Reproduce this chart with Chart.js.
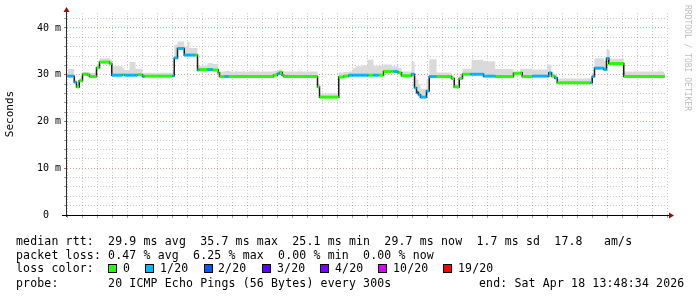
<!DOCTYPE html>
<html><head><meta charset="utf-8">
<script src="https://cdn.jsdelivr.net/npm/chart.js@4.4.1/dist/chart.umd.min.js"></script>
<style>
html,body{margin:0;padding:0;background:#fff;}
#wrap{position:relative;width:697px;height:297px;overflow:hidden;background:#fff;}
#c{position:absolute;left:0;top:0;}
.lg{position:absolute;font-family:"DejaVu Sans Mono",monospace;font-size:11.5px;letter-spacing:0.16px;white-space:pre;color:#000;line-height:14px;}
.box{position:absolute;width:9px;height:9px;border:1px solid #000;box-sizing:border-box;}
#wm{position:absolute;left:683px;top:5px;writing-mode:vertical-rl;font-family:"DejaVu Sans Mono",monospace;font-size:8px;color:#bdbdbd;white-space:pre;line-height:9px;}
</style></head>
<body><div id="wrap"><canvas id="c" width="697" height="297"></canvas>
<div id="wm">RRDTOOL / TOBI OETIKER</div>
<div class="lg" style="left:16px;top:234px">median rtt:  29.9 ms avg  35.7 ms max  25.1 ms min  29.7 ms now  1.7 ms sd  17.8   am/s</div>
<div class="lg" style="left:16px;top:248px">packet loss: 0.47 % avg  6.25 % max  0.00 % min  0.00 % now</div>
<div class="lg" style="left:16px;top:261px">loss color:</div>
<div id="lossrow"></div>
<div class="lg" style="left:16px;top:276px">probe:       20 ICMP Echo Pings (56 Bytes) every 300s</div>
<div class="lg" style="left:479px;top:276px">end: Sat Apr 18 13:48:34 2026</div>
</div>
<script>
// time: hours since 09 Apr 00:00 (start of each step)
const times = [-10.0,-7.3,-6.4,-5.3,-4.0,-2.0,-1.2,1.6,2.8,6.8,7.7,12.0,12.8,14.8,17.2,18.0,20.0,20.8,32.0,32.7,34.0,36.7,38.0,38.8,41.1,42.0,42.7,46.0,48.0,50.3,50.8,52.9,54.5,72.4,73.9,74.8,75.9,76.5,90.0,90.8,98.5,100.5,102.5,104.0,105.2,108.0,110.0,110.4,112.4,114.4,116.4,119.6,120.4,122.0,122.4,123.6,127.6,128.8,129.6,130.4,131.2,133.6,134.7,137.6,143.6,144.7,146.7,148.0,151.1,151.6,156.4,161.1,168.4,171.1,171.9,175.9,181.9,182.5,183.6,184.9,185.9,199.2,199.9,200.8,204.5,205.6,206.5,206.9,212.5,228.8];
// median rtt in ms
const medianMs = [29.7,28.4,27.4,28.7,30.1,30.0,29.6,31.5,32.7,32.4,29.9,30.0,29.9,29.9,29.9,30.0,29.6,29.7,29.8,33.6,35.6,34.2,34.2,34.2,34.2,31.0,31.1,31.1,31.0,30.4,29.6,29.6,29.6,29.9,30.2,30.5,29.9,29.6,27.4,25.2,29.5,29.7,29.9,29.9,29.9,29.9,29.9,29.9,29.9,29.9,30.7,30.7,30.7,30.6,30.4,29.8,30.1,27.2,26.2,25.7,25.2,26.5,29.6,29.6,29.2,27.4,29.2,30.1,30.1,30.1,29.7,29.6,30.3,30.4,29.6,29.7,29.7,30.4,29.7,29.3,28.3,28.3,29.6,31.4,31.1,33.5,32.4,32.4,29.6,29.6];
// loss class index (0 = 0, 1 = 1/20, 2 = 2/20)
const lossIdx = [1,1,0,0,0,0,0,0,0,0,1,0,1,1,1,0,1,0,1,1,1,1,1,1,0,1,0,1,0,0,0,1,0,0,1,0,0,0,0,0,0,0,1,1,1,1,1,0,1,0,0,0,1,0,0,0,1,1,2,1,1,1,1,0,0,0,0,0,1,1,1,0,0,0,0,1,1,1,0,1,0,1,1,1,1,1,0,0,0,0];
// upper edge of the smoke (ping spread) in ms
const smokeTopMs = [31.2,28.9,27.9,29.2,30.6,30.6,30.4,32.2,33.5,33.3,31.8,31.4,31.0,32.7,31.3,31.3,30.4,30.4,30.7,36.4,37.1,36.0,37.1,35.7,35.7,31.9,31.9,32.5,32.3,31.2,30.7,30.8,30.7,30.8,31.0,31.1,30.8,30.7,28.0,26.0,30.5,30.6,30.7,31.4,31.8,32.0,33.2,33.2,31.9,31.9,32.2,31.8,31.8,31.8,31.5,30.7,32.8,29.6,29.0,28.0,27.0,29.0,33.3,30.5,29.9,28.0,29.9,31.3,31.3,33.2,32.9,31.2,30.7,31.3,31.3,31.1,32.2,32.2,30.5,30.0,29.2,29.4,30.2,33.5,32.9,35.3,35.3,33.4,30.7,30.7];
const lossLabels = ['0','1/20','2/20','3/20','4/20','10/20','19/20'];
const lossColors = ['#26ff00','#00b8ff','#0059ff','#5e00ff','#7e00ff','#dd00ff','#ff0000'];
const dayLabels = ['09 Apr','10 Apr','11 Apr','12 Apr','13 Apr','14 Apr','15 Apr','16 Apr','17 Apr','18 Apr'];
const yLabels = {0:'0  ',10:'10 m',20:'20 m',30:'30 m',40:'40 m'};

// loss legend
const boxX = [108,145,204,262,320,378,443];
const txtX = [123,160,218,277,335,393,458];
const lr = document.getElementById('lossrow');
lossLabels.forEach((l,i)=>{
  const b=document.createElement('div'); b.className='box';
  b.style.left=boxX[i]+'px'; b.style.top='264px'; b.style.background=lossColors[i]; lr.appendChild(b);
  const t=document.createElement('div'); t.className='lg'; t.textContent=l;
  t.style.left=txtX[i]+'px'; t.style.top='261px'; lr.appendChild(t);
});

const medianPts = times.map((t,i)=>({x:t,y:medianMs[i]}));
const smokePts = times.map((t,i)=>({x:t,y:smokeTopMs[i]}));
const bandPts = [];
for (let i=0;i<times.length-1;i++){
  bandPts.push({x:times[i],y:medianMs[i],c:lossIdx[i]},{x:times[i+1],y:medianMs[i],c:lossIdx[i]},{x:times[i+1],y:null,c:lossIdx[i]});
}
const MAJ='rgba(222,60,60,0.5)', MIN='rgba(140,140,140,0.45)';
const mod=(v,m)=>((v%m)+m)%m;

const axesPlugin = {id:'axes', afterDraw(chart){
  const {ctx, chartArea:a} = chart;
  ctx.save();
  ctx.strokeStyle='#2c2c2c'; ctx.lineWidth=1;
  ctx.beginPath(); ctx.moveTo(a.left-0.5, a.bottom+2); ctx.lineTo(a.left-0.5, a.top-1); ctx.stroke();
  ctx.strokeStyle='#000';
  ctx.beginPath(); ctx.moveTo(a.left-5, a.bottom+0.5); ctx.lineTo(a.right+2, a.bottom+0.5); ctx.stroke();
  ctx.fillStyle='#8f1010';
  ctx.beginPath(); ctx.moveTo(a.left-0.5, a.top-6); ctx.lineTo(a.left-3.5, a.top-1); ctx.lineTo(a.left+2.5, a.top-1); ctx.closePath(); ctx.fill();
  ctx.beginPath(); ctx.moveTo(a.right+7, a.bottom+0.5); ctx.lineTo(a.right+2, a.bottom-2.5); ctx.lineTo(a.right+2, a.bottom+3.5); ctx.closePath(); ctx.fill();
  ctx.restore();
}};

new Chart(document.getElementById('c'), {
  type:'line',
  data:{datasets:[
    {data:bandPts, order:0, borderWidth:3, borderCapStyle:'butt', pointRadius:0, spanGaps:false,
     borderColor:lossColors[0], segment:{borderColor: c => lossColors[bandPts[c.p0DataIndex].c]}},
    {data:medianPts, order:1, stepped:true, borderWidth:1.5, borderColor:'#1c1c1c', pointRadius:0},
    {data:smokePts, order:2, stepped:true, borderWidth:0, borderColor:'rgba(0,0,0,0)', pointRadius:0,
     fill:{target:1}, backgroundColor:'#dadada'}
  ]},
  options:{
    responsive:false, animation:false, devicePixelRatio:1,
    layout:{padding:{left:0,top:13,right:30,bottom:0}},
    plugins:{legend:{display:false}, tooltip:{enabled:false}},
    scales:{
      x:{type:'linear', min:-10.2, max:229.8, afterFit:s=>{s.height=82;},
        ticks:{stepSize:6, includeBounds:false, autoSkip:false, maxRotation:0, minRotation:0, padding:1, color:'#000',
          font:{family:'DejaVu Sans Mono', size:10},
          callback:v => mod(v,24)===12 ? dayLabels[(v-12)/24] : ''},
        grid:{color:c=> mod(c.tick.value,24)===0 ? MAJ : MIN, tickLength:3,
          tickColor:c=> mod(c.tick.value,24)===0 ? 'rgba(200,60,60,0.8)' : 'rgba(120,120,120,0.7)'},
        border:{display:false, dash:[1,2]}},
      y:{min:0, max:43.2, afterFit:s=>{s.width=67;},
        ticks:{stepSize:2, includeBounds:false, autoSkip:false, padding:3, color:'#000',
          font:{family:'DejaVu Sans Mono', size:10},
          callback:v => (v in yLabels) ? yLabels[v] : ''},
        grid:{color:c=> mod(c.tick.value,10)===0 ? MAJ : MIN, tickLength:3,
          tickColor:c=> mod(c.tick.value,10)===0 ? 'rgba(200,60,60,0.8)' : 'rgba(120,120,120,0.7)'},
        border:{display:false, dash:[1,2]},
        title:{display:true, text:'Seconds', color:'#000', font:{family:'DejaVu Sans Mono', size:11}, padding:{top:4,bottom:0}}}
    }
  },
  plugins:[axesPlugin]
});
</script></body></html>
